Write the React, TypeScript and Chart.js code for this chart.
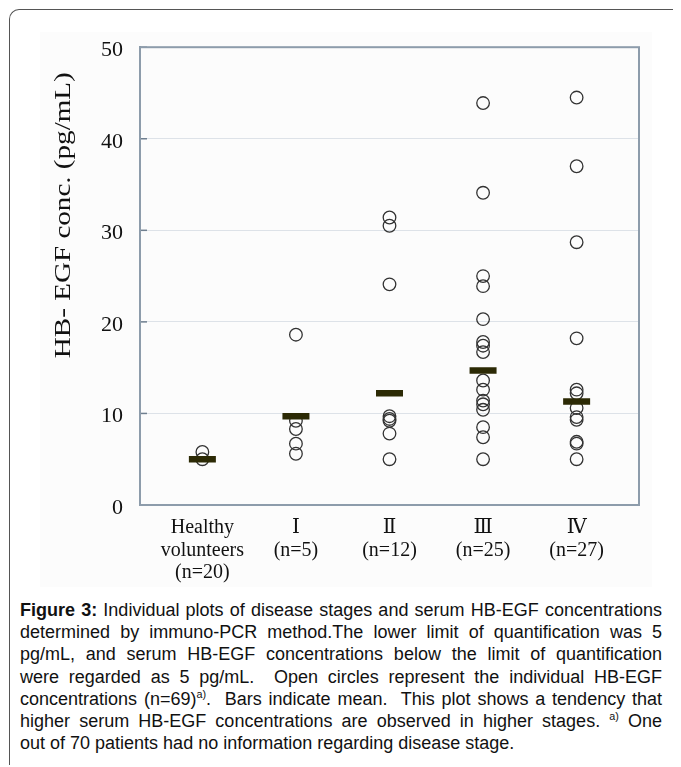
import React, { useEffect, useRef } from "react";
import { Chart, registerables } from "chart.js";

Chart.register(...registerables);

// ---- data ----
const groupLabels: string[][] = [
  ["Healthy", "volunteers", "(n=20)"],
  ["Ⅰ", "(n=5)"],
  ["Ⅱ", "(n=12)"],
  ["Ⅲ", "(n=25)"],
  ["Ⅳ", "(n=27)"],
];
const healthyValues = [5.8, 5.0];
const stageIValues = [18.6, 9.2, 8.3, 6.7, 5.6];
const stageIIValues = [31.4, 30.5, 24.1, 9.7, 9.4, 9.2, 7.8, 5.0];
const stageIIIValues = [43.9, 34.1, 25.0, 23.9, 20.3, 17.8, 17.4, 16.7, 13.6, 12.6, 11.4, 11.0, 10.4, 8.5, 7.4, 5.0];
const stageIVValues = [44.5, 37.0, 28.7, 18.2, 12.6, 12.2, 10.6, 9.6, 9.3, 6.9, 6.7, 5.0];
const meanValues = [5.0, 9.7, 12.2, 14.7, 11.3];
const yTicks = [0, 10, 20, 30, 40, 50];
const yTitle = "HB- EGF conc. (pg/mL)";

const groups = [healthyValues, stageIValues, stageIIValues, stageIIIValues, stageIVValues];

const frameColor = "#8d9cab";
const serif = '"Liberation Serif", "DejaVu Serif", serif';

const decorPlugin = {
  id: "decor",
  beforeDatasetsDraw(chart: any) {
    const { ctx, chartArea, scales } = chart;
    ctx.save();
    ctx.strokeStyle = "#6f7f8f";
    ctx.lineWidth = 1.5;
    yTicks.forEach((t) => {
      const y = scales.y.getPixelForValue(t);
      ctx.beginPath();
      ctx.moveTo(chartArea.left, y);
      ctx.lineTo(chartArea.left + 7, y);
      ctx.stroke();
    });
    ctx.strokeStyle = frameColor;
    ctx.lineWidth = 2;
    ctx.strokeRect(chartArea.left, chartArea.top, chartArea.right - chartArea.left, chartArea.bottom - chartArea.top);
    ctx.restore();
  },
  afterDraw(chart: any) {
    const { ctx, chartArea } = chart;
    ctx.save();
    ctx.font = '23px "Liberation Serif", "Times New Roman", serif';
    ctx.fillStyle = "#111";
    ctx.textAlign = "center";
    ctx.textBaseline = "middle";
    const w = ctx.measureText(yTitle).width;
    const target = 286;
    ctx.translate(chartArea.left - 76, chartArea.top + 168);
    ctx.rotate(-Math.PI / 2);
    ctx.scale(target / w, 1);
    ctx.fillText(yTitle, 0, 0);
    ctx.restore();
  },
};

function ChartView() {
  const ref = useRef<HTMLCanvasElement | null>(null);
  useEffect(() => {
    if (!ref.current) return;
    const pointData: { x: number; y: number }[] = [];
    groups.forEach((vals, i) => vals.forEach((v) => pointData.push({ x: i, y: v })));
    const meanData = meanValues.map((v, i) => ({ x: i, y: v }));
    const chart = new Chart(ref.current, {
      type: "scatter",
      data: {
        datasets: [
          {
            label: "Mean",
            data: meanData,
            pointStyle: "line",
            pointRadius: 13.5,
            pointBorderWidth: 6.5,
            pointBorderColor: "#2c2a05",
            pointBackgroundColor: "#2c2a05",
          } as any,
          {
            label: "Individual",
            data: pointData,
            pointStyle: "circle",
            pointRadius: 6.3,
            pointBorderWidth: 1.3,
            pointBorderColor: "#333",
            pointBackgroundColor: "rgba(255,255,255,0)",
          } as any,
        ],
      },
      options: {
        animation: false,
        responsive: false,
        maintainAspectRatio: false,
        layout: { padding: { left: 0, right: 13, top: 0, bottom: 0 } },
        plugins: { legend: { display: false }, tooltip: { enabled: false } },
        scales: {
          x: {
            type: "linear",
            min: -2 / 3,
            max: 4 + 2 / 3,
            afterBuildTicks: (scale: any) => {
              scale.ticks = groupLabels.map((_, i) => ({ value: i }));
            },
            afterFit: (scale: any) => {
              scale.height = 82;
            },
            grid: { display: false, drawTicks: false },
            border: { color: frameColor, width: 2 },
            ticks: {
              autoSkip: false,
              maxRotation: 0,
              padding: 12,
              color: "#111",
              font: { family: serif, size: 20, lineHeight: 1.12 },
              callback: (v: any) => groupLabels[Math.round(v)] ?? "",
            },
          },
          y: {
            min: 0,
            max: 50,
            afterBuildTicks: (scale: any) => {
              scale.ticks = yTicks.map((t) => ({ value: t }));
            },
            afterFit: (scale: any) => {
              scale.width = 100;
            },
            grid: { color: "#dde2e8", lineWidth: 1, drawTicks: false },
            border: { color: frameColor, width: 2 },
            ticks: {
              padding: 17,
              labelOffset: 3,
              color: "#111",
              font: { family: serif, size: 22 },
            },
          },
        },
      },
      plugins: [decorPlugin],
    } as any);
    return () => chart.destroy();
  }, []);
  return <canvas ref={ref} width={619} height={570} style={{ display: "block" }} />;
}

const supStyle: React.CSSProperties = { fontSize: "0.6em", lineHeight: 0 };
const captionLines: React.ReactNode[] = [
  <><b>Figure 3:</b> Individual plots of disease stages and serum HB-EGF concentrations</>,
  <>determined by immuno-PCR method.The lower limit of quantification was 5</>,
  <>pg/mL, and serum HB-EGF concentrations below the limit of quantification</>,
  <>were regarded as 5 pg/mL.&nbsp; Open circles represent the individual HB-EGF</>,
  <>concentrations (n=69)<sup style={supStyle}>a)</sup>.&nbsp; Bars indicate mean.&nbsp; This plot shows a tendency that</>,
  <>higher serum HB-EGF concentrations are observed in higher stages. <sup style={supStyle}>a)</sup> One</>,
];
const captionLast = "out of 70 patients had no information regarding disease stage.";

export default function App() {
  return (
    <div style={{ position: "relative", width: 673, height: 757, overflow: "hidden" }}>
      <div
        style={{
          position: "absolute",
          left: 1,
          top: 1,
          width: 760,
          height: 800,
          borderTop: "1.5px solid #555",
          borderLeft: "1.5px solid #555",
          borderTopLeftRadius: 10,
          boxSizing: "border-box",
        }}
      />
      <div style={{ position: "absolute", left: 32, top: 24, width: 612, height: 555, background: "#fcfcfc" }} />
      <div style={{ position: "absolute", left: 32, top: 9 }}>
        <ChartView />
      </div>
      <div
        style={{
          position: "absolute",
          left: 12,
          top: 591,
          width: 642,
          fontFamily: '"Liberation Sans", Arial, sans-serif',
          fontSize: 18,
          lineHeight: "22.2px",
          color: "#111",
        }}
      >
        {captionLines.map((l, i) => (
          <div key={i} style={{ textAlign: "justify", textAlignLast: "justify" }}>
            {l}
          </div>
        ))}
        <div>{captionLast}</div>
      </div>
    </div>
  );
}
